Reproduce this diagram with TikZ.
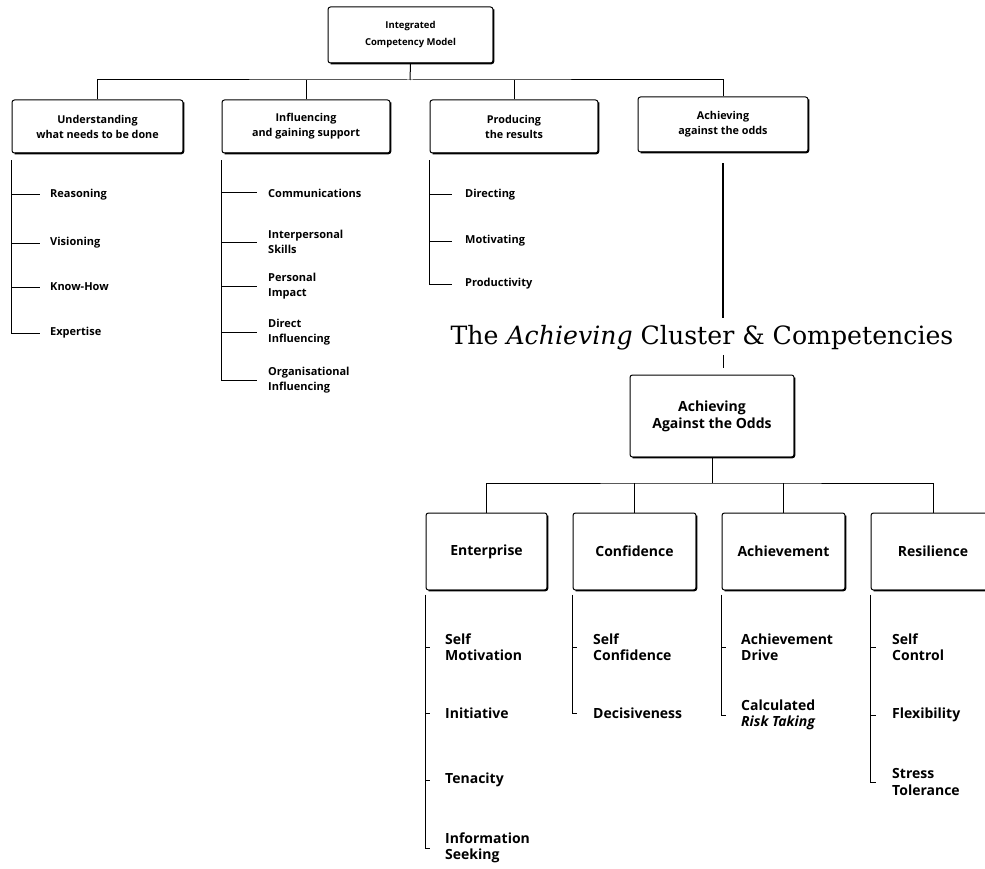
\documentclass[tikz,border=0pt]{standalone}
\usepackage{fontspec}
\setmainfont{Open Sans}
\newfontfamily\titlefont{DejaVu Serif}
\begin{document}
\begin{tikzpicture}[x=1pt,y=-1pt,
  conn/.style={line width=1pt},
  cbox/.style={draw, line width=1pt, rounded corners=2.5pt, inner sep=0pt, align=center},
  lbox/.style={cbox, minimum width=168pt, minimum height=53pt, font=\bfseries\fontsize{10.8}{15}\selectfont},
  kbox/.style={cbox, minimum height=77pt, font=\bfseries\fontsize{14}{16}\selectfont},
  itm/.style={anchor=west, inner sep=0pt, align=left, font=\bfseries\fontsize{11}{15.5}\selectfont},
  itmk/.style={anchor=west, inner sep=0pt, align=left, font=\bfseries\fontsize{14}{16.5}\selectfont}]
\useasboundingbox (0,0) rectangle (985,869);

% ---- upper model ----
\node[cbox, minimum width=165pt, minimum height=56pt, font=\bfseries\fontsize{9.5}{17}\selectfont] (top) at (410.5,35) {Integrated\\Competency Model};
\node[lbox, minimum width=171pt] (b1) at (97.5,126.5) {Understanding\\what needs to be done};
\node[lbox] (b2) at (306,126.5) {Influencing\\and gaining support};
\node[lbox] (b3) at (514,126.5) {Producing\\the results};
\node[lbox, minimum width=170pt, minimum height=55pt] (b4) at (723,124.5) {Achieving\\against the odds};

\coordinate (bus1) at (410,80);
\draw[conn] (top.south) -- (bus1);
\draw[conn] (b1.north) |- (bus1) -| (b4.north);
\draw[conn] (b2.north) -- (b2.north |- bus1);
\draw[conn] (b3.north) -- (b3.north |- bus1);

% column 1
\node[itm] (rea) at (50,195) {Reasoning};
\node[itm] (vis) at (50,243) {Visioning};
\node[itm] (kno) at (50,287) {Know-How};
\node[itm] (exp) at (50,333) {Expertise};
\draw[conn] ([yshift=-7pt]b1.south west) |- ([xshift=-10pt]exp.west);
\foreach \n in {rea,vis,kno} \draw[conn] (b1.south west |- \n.west) -- ([xshift=-10pt]\n.west);

% column 2
\node[itm] (com) at (268,193) {Communications};
\node[itm] (int) at (268,242) {Interpersonal\\Skills};
\node[itm] (per) at (268,286) {Personal\\Impact};
\node[itm] (dir) at (268,332) {Direct\\Influencing};
\node[itm] (org) at (268,380) {Organisational\\Influencing};
\draw[conn] ([yshift=-7pt]b2.south west) |- ([xshift=-11pt]org.west);
\foreach \n in {com,int,per,dir} \draw[conn] (b2.south west |- \n.west) -- ([xshift=-11pt]\n.west);

% column 3
\node[itm] (dct) at (465,195) {Directing};
\node[itm] (mot) at (465,241) {Motivating};
\node[itm] (pro) at (465,284) {Productivity};
\draw[conn] ([yshift=-7pt]b3.south west) |- ([xshift=-13pt]pro.west);
\foreach \n in {dct,mot} \draw[conn] (b3.south west |- \n.west) -- ([xshift=-13pt]\n.west);

% ---- title and link ----
\node[anchor=base, inner sep=0pt, font=\titlefont\fontsize{25.2}{29}\selectfont] (title) at (702,344) {The \textit{Achieving} Cluster \& Competencies};

\node[cbox, minimum width=164pt, minimum height=82pt, font=\bfseries\fontsize{14}{17}\selectfont] (aao) at (712,416) {Achieving\\Against the Odds};

\draw[line width=1.8pt] ([yshift=-11pt]b4.south) -- ([yshift=7pt]b4.south |- title.north);
\draw[conn] ([yshift=-5pt]b4.south |- title.south) -- ([yshift=7pt]b4.south |- aao.north);

% ---- achieving cluster ----
\node[kbox, minimum width=121pt] (e) at (486.5,551.5) {Enterprise};
\node[kbox, minimum width=123pt] (c) at (634.5,551.5) {Confidence};
\node[kbox, minimum width=123pt] (a) at (783.5,551.5) {Achievement};
\node[kbox, minimum width=124pt] (r) at (933,551.5) {Resilience};

\coordinate (bus2) at (712,483);
\draw[conn] (aao.south) -- (bus2);
\draw[conn] (e.north) |- (bus2) -| (r.north);
\draw[conn] (c.north) -- (c.north |- bus2);
\draw[conn] (a.north) -- (a.north |- bus2);

% enterprise
\node[itmk] (sm) at (445,647) {Self\\Motivation};
\node[itmk] (ini) at (445,713) {Initiative};
\node[itmk] (ten) at (445,780) {Tenacity};
\node[itmk] (inf) at (445,848) {Information\\Seeking};
\draw[conn] ([yshift=-4pt]e.south west) |- ([xshift=-15pt]inf.west);
\foreach \n in {sm,ini,ten} \draw[conn] (e.south west |- \n.west) -- ([xshift=-15pt]\n.west);

% confidence
\node[itmk] (sc) at (593,647) {Self\\Confidence};
\node[itmk] (dec) at (593,713) {Decisiveness};
\draw[conn] ([yshift=-4pt]c.south west) |- ([xshift=-16pt]dec.west);
\draw[conn] (c.south west |- sc.west) -- ([xshift=-16pt]sc.west);

% achievement
\node[itmk] (ad) at (741,647) {Achievement\\Drive};
\node[itmk] (crt) at (741,715) {Calculated\\\textit{Risk Taking}};
\draw[conn] ([yshift=-4pt]a.south west) |- ([xshift=-15pt]crt.west);
\draw[conn] (a.south west |- ad.west) -- ([xshift=-15pt]ad.west);

% resilience
\node[itmk] (sct) at (892,647) {Self\\Control};
\node[itmk] (flx) at (892,715) {Flexibility};
\node[itmk] (st) at (892,782) {Stress\\Tolerance};
\draw[conn] ([yshift=-4pt]r.south west) |- ([xshift=-16pt]st.west);
\foreach \n in {sct,flx} \draw[conn] (r.south west |- \n.west) -- ([xshift=-16pt]\n.west);

% heavier right and bottom edges of the boxes
\foreach \n in {top,b1,b2,b3,b4,aao,e,c,a,r}
  \draw[line width=1.8pt, rounded corners=2.5pt] ([yshift=-3pt]\n.north east) -- (\n.south east) -- ([xshift=3pt]\n.south west);
\end{tikzpicture}
\end{document}
